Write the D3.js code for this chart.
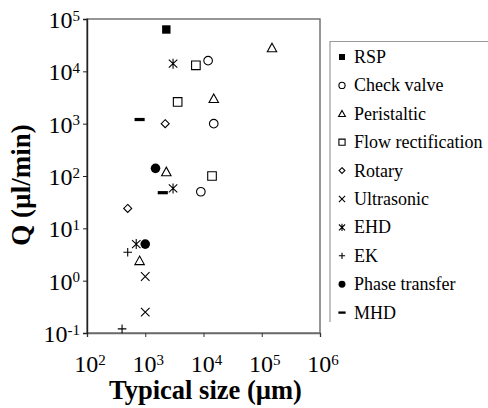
<!DOCTYPE html>
<html>
<head>
<meta charset="utf-8">
<script src="https://cdn.jsdelivr.net/npm/d3@7"></script>
<style>
  body { margin: 0; background: #fff; }
</style>
</head>
<body>
<div id="chart"></div>
<script>
// micropump data: [typical size (um), flow rate Q (ul/min)]
var rsp            = [[2300, 63000]]
var checkValve     = [[12000, 16000], [15000, 1000], [9000, 50]]
var peristaltic    = [[150000, 28000], [15000, 3000], [2300, 120], [800, 2.4]]
var flowRect       = [[7400, 13000], [3600, 2600], [14000, 100]]
var rotary         = [[2200, 1000], [500, 24]]
var ultrasonic     = [[1000, 1.2], [1000, 0.25]]
var ehd            = [[3000, 14000], [3000, 58], [700, 5]]
var ek             = [[500, 3.5], [400, 0.12]]
var phaseTransfer  = [[1500, 140], [1000, 5]]
var mhd            = [[800, 1200], [2000, 48]]

var seriesNames = ['RSP', 'Check valve', 'Peristaltic', 'Flow rectification', 'Rotary',
                   'Ultrasonic', 'EHD', 'EK', 'Phase transfer', 'MHD']
var seriesData  = [rsp, checkValve, peristaltic, flowRect, rotary, ultrasonic, ehd, ek, phaseTransfer, mhd]
var seriesMarks = ['fsquare', 'circle', 'triangle', 'square', 'diamond', 'times', 'asterisk', 'plus', 'fcircle', 'dash']

var xExponents = [2, 3, 4, 5, 6]
var yExponents = [-1, 0, 1, 2, 3, 4, 5]

var width = 488, height = 408
var plot = {left: 87, right: 320, top: 19, bottom: 333}
var serif = "'Liberation Serif'"

var svg = d3.select('#chart').append('svg')
  .attr('width', width)
  .attr('height', height)
  .style('display', 'block')

var x = d3.scaleLog().domain([1e2, 1e6]).range([plot.left, plot.right])
var y = d3.scaleLog().domain([1e-1, 1e5]).range([plot.bottom, plot.top])

// marker path for a given type, s = half size in px
function markerPath(type, s) {
  var p = d3.path()
  switch (type) {
    case 'square': case 'fsquare':
      p.rect(-s, -s, 2 * s, 2 * s); break
    case 'circle': case 'fcircle':
      p.arc(0, 0, s, 0, 2 * Math.PI); break
    case 'triangle':
      p.moveTo(0, -s * 1.05); p.lineTo(s * 1.05, s * 0.85); p.lineTo(-s * 1.05, s * 0.85); p.closePath(); break
    case 'diamond':
      p.moveTo(0, -s); p.lineTo(s, 0); p.lineTo(0, s); p.lineTo(-s, 0); p.closePath(); break
    case 'times':
      p.moveTo(-s, -s); p.lineTo(s, s); p.moveTo(-s, s); p.lineTo(s, -s); break
    case 'plus':
      p.moveTo(-s, 0); p.lineTo(s, 0); p.moveTo(0, -s); p.lineTo(0, s); break
    case 'asterisk':
      p.moveTo(-s * 0.85, -s * 0.8); p.lineTo(s * 0.85, s * 0.8)
      p.moveTo(-s * 0.85, s * 0.8); p.lineTo(s * 0.85, -s * 0.8)
      p.moveTo(0, -s); p.lineTo(0, s); break
    case 'dash':
      p.rect(-s * 1.1, -s * 0.35, s * 2.2, s * 0.7); break
  }
  return p.toString()
}

function styleMarker(sel, type) {
  var filled = (type === 'fsquare' || type === 'fcircle' || type === 'dash')
  sel.attr('fill', filled ? '#000' : 'none')
    .attr('stroke', filled ? 'none' : '#000')
    .attr('stroke-width', 1.1)
}

var markSize = {fsquare: 4.2, square: 4.3, circle: 4.3, fcircle: 4.8, triangle: 4.5, diamond: 4,
                times: 4.3, plus: 4.3, asterisk: 5, dash: 4.6}

// frame
svg.append('rect')
  .attr('x', plot.left).attr('y', plot.top)
  .attr('width', plot.right - plot.left).attr('height', plot.bottom - plot.top)
  .attr('fill', 'none').attr('stroke', '#6a6a6a').attr('stroke-width', 1.4)

// x axis
var xAxis = svg.append('g')
  .attr('transform', 'translate(0,' + plot.bottom + ')')
  .call(d3.axisBottom(x).tickValues(xExponents.map(function(e) { return Math.pow(10, e) }))
    .tickSize(4).tickFormat(''))
xAxis.select('.domain').attr('stroke', '#6a6a6a').attr('stroke-width', 1.4)
xAxis.selectAll('.tick line').attr('stroke', '#333')

// y axis
var yAxis = svg.append('g')
  .attr('transform', 'translate(' + plot.left + ',0)')
  .call(d3.axisLeft(y).tickValues(yExponents.map(function(e) { return Math.pow(10, e) }))
    .tickSize(4).tickFormat(''))
yAxis.select('.domain').attr('stroke', '#222').attr('stroke-width', 1.4)
yAxis.selectAll('.tick line').attr('stroke', '#222')

// power-of-ten tick labels
function powerLabel(sel, exp) {
  sel.append('tspan').text('10')
  sel.append('tspan').attr('font-size', 15).attr('dy', '-0.5em').text(exp)
}

svg.append('g').selectAll('text')
  .data(xExponents)
  .join('text')
    .attr('x', function(d) { return x(Math.pow(10, d)) + 3 })
    .attr('y', 372)
    .attr('text-anchor', 'middle')
    .attr('font-size', 24)
    .attr('fill', '#000')
    .style('font-family', serif)
    .style('font-weight', 400)
    .each(function(d) { powerLabel(d3.select(this), d) })

svg.append('g').selectAll('text')
  .data(yExponents)
  .join('text')
    .attr('x', plot.left - 7)
    .attr('y', function(d) { return y(Math.pow(10, d)) + 9 })
    .attr('text-anchor', 'end')
    .attr('font-size', 24)
    .attr('fill', '#000')
    .style('font-family', serif)
    .style('font-weight', 400)
    .each(function(d) { powerLabel(d3.select(this), d) })

// axis titles
svg.append('text')
  .attr('x', (plot.left + plot.right) / 2 + 2)
  .attr('y', 399)
  .attr('text-anchor', 'middle')
  .attr('font-size', 26.5)
  .style('font-family', serif)
  .style('font-weight', 700)
  .text('Typical size (µm)')

svg.append('text')
  .attr('transform', 'translate(30,185) rotate(-90)')
  .attr('text-anchor', 'middle')
  .attr('font-size', 27)
  .style('font-family', serif)
  .style('font-weight', 700)
  .text('Q (µl/min)')

// data points
seriesData.forEach(function(data, i) {
  var type = seriesMarks[i]
  svg.append('g').selectAll('path')
    .data(data)
    .join('path')
      .attr('transform', function(d) { return 'translate(' + x(d[0]) + ',' + y(d[1]) + ')' })
      .attr('d', markerPath(type, markSize[type]))
      .call(styleMarker, type)
})

// legend
var legend = svg.append('g')
svg.append('path')
  .attr('d', 'M330,322V41.5H488')
  .attr('fill', 'none').attr('stroke', '#999').attr('stroke-width', 1.2)

var rows = legend.selectAll('g')
  .data(seriesNames)
  .join('g')
    .attr('transform', function(d, i) { return 'translate(342,' + (57 + i * 28.4) + ')' })

rows.append('path')
  .attr('d', function(d, i) { return markerPath(seriesMarks[i], markSize[seriesMarks[i]] * 0.72) })
  .each(function(d, i) { styleMarker(d3.select(this), seriesMarks[i]) })

rows.append('text')
  .attr('x', 12)
  .attr('y', 6)
  .attr('font-size', 18)
  .attr('fill', '#000')
  .style('font-family', serif)
  .style('font-weight', 400)
  .text(function(d) { return d })
</script>
</body>
</html>
